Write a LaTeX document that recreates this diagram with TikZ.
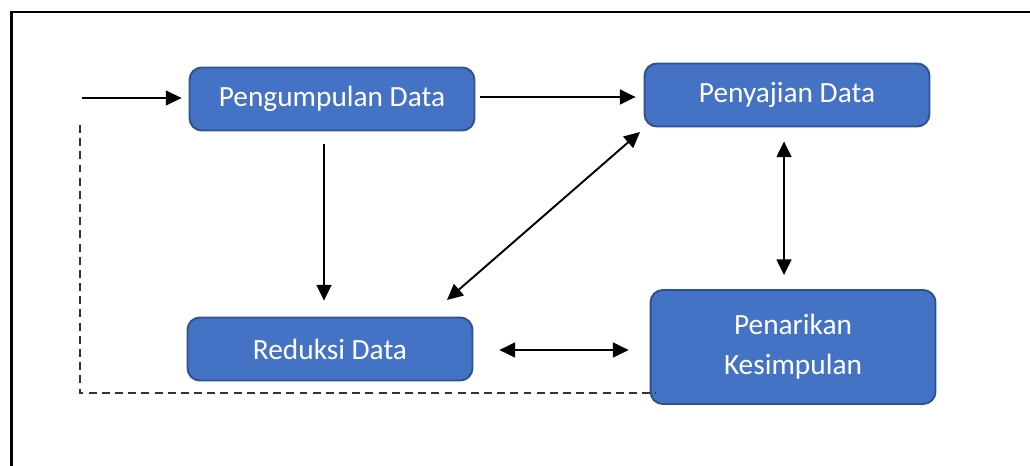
\documentclass[tikz,border=0pt]{standalone}
\usepackage{fontspec}
\setmainfont{Carlito}
\usepackage{xcolor,tikz}
\usetikzlibrary{arrows.meta,positioning}
\definecolor{boxfill}{HTML}{4472C4}
\definecolor{boxline}{HTML}{2F528F}

\tikzset{
  stage/.style={draw=boxline,line width=1.1pt,fill=boxfill,rounded corners=7pt,
    text=white,align=center,minimum width=5.7cm,minimum height=1.26cm,
    font=\fontsize{16.7}{22.7}\selectfont},
  flow/.style={line width=1.1pt,-{Triangle[length=9pt,width=8.5pt]}},
  twoway/.style={line width=1.1pt,{Triangle[length=9pt,width=8.5pt]}-{Triangle[length=9pt,width=8.5pt]}},
}

\begin{document}
\begin{tikzpicture}[x=0.02cm,y=-0.02cm]
\useasboundingbox (0,0) rectangle (1030,466);
\draw[line width=1.6pt] (11.5,12) rectangle (1050,480);

\node[stage] (kumpul) at (332,99) {Pengumpulan Data};
\node[stage] (saji) at (787,95) {Penyajian Data};
\node[stage] (reduksi) at (330,349) {Reduksi Data};
\node[stage,minimum height=2.28cm] (tarik) at (793,347) {Penarikan\\Kesimpulan};

\coordinate (masuk) at (82,98);
\coordinate (balik) at (80,125);
\coordinate (sudut) at (80,393);

\draw[line width=0.6pt,-{Triangle[length=9pt,width=8.5pt]},shorten >=7*0.567pt] (masuk) -- (masuk -| kumpul.west);
\draw[flow,shorten <=5*0.567pt,shorten >=8*0.567pt] (kumpul.east |- 0,97) -- (saji.west |- 0,97);
\draw[flow,shorten <=13*0.567pt,shorten >=16*0.567pt] (kumpul.south -| 324,0) -- (reduksi.north -| 324,0);
\draw[twoway] (447,300) -- (640,132);
\draw[twoway,shorten <=14*0.567pt,shorten >=14*0.567pt] (saji.south -| 784,0) -- (tarik.north -| 784,0);
\draw[twoway,shorten <=26*0.567pt,shorten >=21*0.567pt] (reduksi.east |- 0,350) -- (tarik.west |- 0,350);
\draw[line width=0.6pt,black!80,dash pattern=on 4.5pt off 3pt] (balik) -- (sudut) -- ([xshift=0.12cm]sudut -| tarik.west);
\end{tikzpicture}
\end{document}
